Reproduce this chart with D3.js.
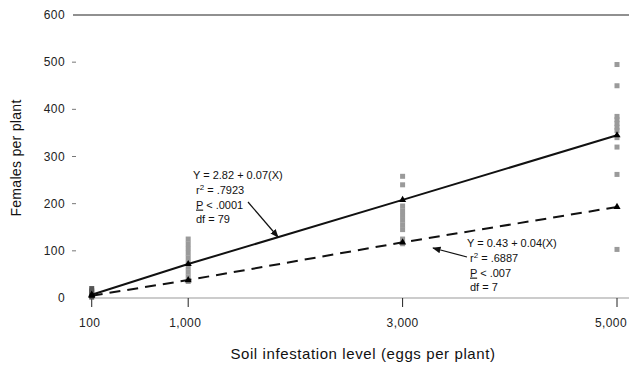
<!DOCTYPE html>
<html lang="en">
  <head>
    <meta charset="utf-8" />
    <title>Females per plant vs soil infestation</title>
    <script src="https://cdnjs.cloudflare.com/ajax/libs/d3/7.8.5/d3.min.js"></script>
    <style>
      body {
        margin: 0;
        background: #fff;
        font-family: "Liberation Sans", Arial, sans-serif;
      }
      .tick-label {
        font-size: 12px;
        letter-spacing: 0.4px;
        fill: #222;
      }
      .note {
        font-size: 11px;
        fill: #111;
      }
    </style>
  </head>
  <body>
    <div id="chart"></div>
    <script>
      // infestation levels (eggs per plant)
      const levels = [100, 1000, 3000, 5000];
      const levelLabels = ["100", "1,000", "3,000", "5,000"];
      const yTicks = [0, 100, 200, 300, 400, 500, 600];

      // individual plant counts
      const obs100 = [20, 15, 10, 6, 2];
      const obs1000 = [125, 115, 105, 95, 85, 75, 65, 55, 45, 35];
      const obs3000 = [258, 240, 195, 185, 175, 165, 155, 145, 125, 115];
      const obs5000 = [495, 450, 385, 378, 370, 362, 355, 340, 320, 262, 103];

      // fitted values at each level
      const solidMeans = [7, 72, 208, 345];
      const dashedMeans = [5, 38, 118, 193];

      const width = 629;
      const height = 372;

      const svg = d3
        .select("#chart")
        .append("svg")
        .attr("width", width)
        .attr("height", height);

      const x = d3.scaleLinear().domain([0, 5000]).range([81, 617]);
      const y = d3.scaleLinear().domain([0, 600]).range([298, 15]);

      // top frame line at 600
      svg
        .append("line")
        .attr("x1", 73)
        .attr("x2", width)
        .attr("y1", y(600))
        .attr("y2", y(600))
        .attr("stroke", "#222")
        .attr("stroke-width", 1.2);

      // baseline
      svg
        .append("line")
        .attr("x1", x(100))
        .attr("x2", width)
        .attr("y1", y(0))
        .attr("y2", y(0))
        .attr("stroke", "#999")
        .attr("stroke-width", 1);

      // y tick labels + small dashes
      svg
        .selectAll(".ylab")
        .data(yTicks)
        .enter()
        .append("text")
        .attr("class", "tick-label")
        .attr("x", 65)
        .attr("y", (d) => y(d) + 4)
        .attr("text-anchor", "end")
        .text((d) => d);

      svg
        .selectAll(".ydash")
        .data(yTicks.slice(1, -1))
        .enter()
        .append("line")
        .attr("x1", 72)
        .attr("x2", 76)
        .attr("y1", (d) => y(d))
        .attr("y2", (d) => y(d))
        .attr("stroke", "#777");

      // x ticks
      svg
        .selectAll(".xtick")
        .data(levels)
        .enter()
        .append("line")
        .attr("x1", (d) => x(d))
        .attr("x2", (d) => x(d))
        .attr("y1", y(0))
        .attr("y2", y(0) + 9)
        .attr("stroke", "#222");

      // last label sits a little left so it stays inside the frame
      svg
        .selectAll(".xlab")
        .data(levels)
        .enter()
        .append("text")
        .attr("class", "tick-label")
        .attr("x", (d, i) => x(d) - (i === 0 ? 2 : i === 1 ? 3 : i === 3 ? 6 : 0))
        .attr("y", 327)
        .attr("text-anchor", "middle")
        .text((d, i) => levelLabels[i]);

      // axis titles
      svg
        .append("text")
        .attr("x", 363)
        .attr("y", 359)
        .attr("text-anchor", "middle")
        .style("font-size", "15px")
        .style("letter-spacing", "0.6px")
        .style("fill", "#111")
        .text("Soil infestation level (eggs per plant)");

      svg
        .append("text")
        .attr("transform", "translate(21,158) rotate(-90)")
        .attr("text-anchor", "middle")
        .style("font-size", "14px")
        .style("letter-spacing", "0.3px")
        .style("fill", "#111")
        .text("Females per plant");

      // observations
      const groups = [obs100, obs1000, obs3000, obs5000];
      const points = [];
      groups.forEach((g, i) => g.forEach((v) => points.push({ lvl: levels[i], v })));

      svg
        .selectAll(".obs")
        .data(points)
        .enter()
        .append("rect")
        .attr("x", (d) => x(d.lvl) - 2.5)
        .attr("y", (d) => y(d.v) - 2.5)
        .attr("width", 5)
        .attr("height", 5)
        .attr("fill", (d) => (d.lvl === 100 ? "#555" : "#9a9a9a"));

      // regression lines
      const line = d3
        .line()
        .x((d, i) => x(levels[i]))
        .y((d) => y(d));

      svg
        .append("path")
        .datum(solidMeans)
        .attr("d", line)
        .attr("fill", "none")
        .attr("stroke", "#111")
        .attr("stroke-width", 2);

      svg
        .append("path")
        .datum(dashedMeans)
        .attr("d", line)
        .attr("fill", "none")
        .attr("stroke", "#111")
        .attr("stroke-width", 2)
        .attr("stroke-dasharray", "11,7");

      const tri = d3.symbol().type(d3.symbolTriangle).size(22);
      [solidMeans, dashedMeans].forEach((s) => {
        svg
          .selectAll(null)
          .data(s)
          .enter()
          .append("path")
          .attr("d", tri)
          .attr("transform", (d, i) => `translate(${x(levels[i])},${y(d)})`)
          .attr("fill", "#000");
      });

      // arrow marker
      svg
        .append("defs")
        .append("marker")
        .attr("id", "arr")
        .attr("viewBox", "0 0 10 10")
        .attr("refX", 9)
        .attr("refY", 5)
        .attr("markerWidth", 7)
        .attr("markerHeight", 7)
        .attr("orient", "auto")
        .append("path")
        .attr("d", "M0,1 L10,5 L0,9 z")
        .attr("fill", "#111");

      function note(lines, x0, y0) {
        lines.forEach((t, i) => {
          const txt = svg
            .append("text")
            .attr("class", "note")
            .attr("x", x0 + (i === 0 ? 0 : 3))
            .attr("y", y0 + i * 14.8);
          if (t.startsWith("r2")) {
            txt.append("tspan").text("r");
            txt.append("tspan").attr("dy", -4).style("font-size", "8px").text("2");
            txt.append("tspan").attr("dy", 4).text(t.slice(2));
          } else if (t.startsWith("P")) {
            txt.append("tspan").style("text-decoration", "underline").text("P");
            txt.append("tspan").text(t.slice(1));
          } else {
            txt.text(t);
          }
        });
      }

      note(["Y = 2.82 + 0.07(X)", "r2 = .7923", "P < .0001", "df = 79"], 193, 179);
      note(["Y = 0.43 + 0.04(X)", "r2 = .6887", "P < .007", "df = 7"], 467, 247);

      svg
        .append("line")
        .attr("x1", 248)
        .attr("y1", 202)
        .attr("x2", 278)
        .attr("y2", 237)
        .attr("stroke", "#111")
        .attr("stroke-width", 1.2)
        .attr("marker-end", "url(#arr)");

      svg
        .append("line")
        .attr("x1", 467)
        .attr("y1", 257)
        .attr("x2", 433)
        .attr("y2", 248)
        .attr("stroke", "#111")
        .attr("stroke-width", 1.2)
        .attr("marker-end", "url(#arr)");
    </script>
  </body>
</html>
